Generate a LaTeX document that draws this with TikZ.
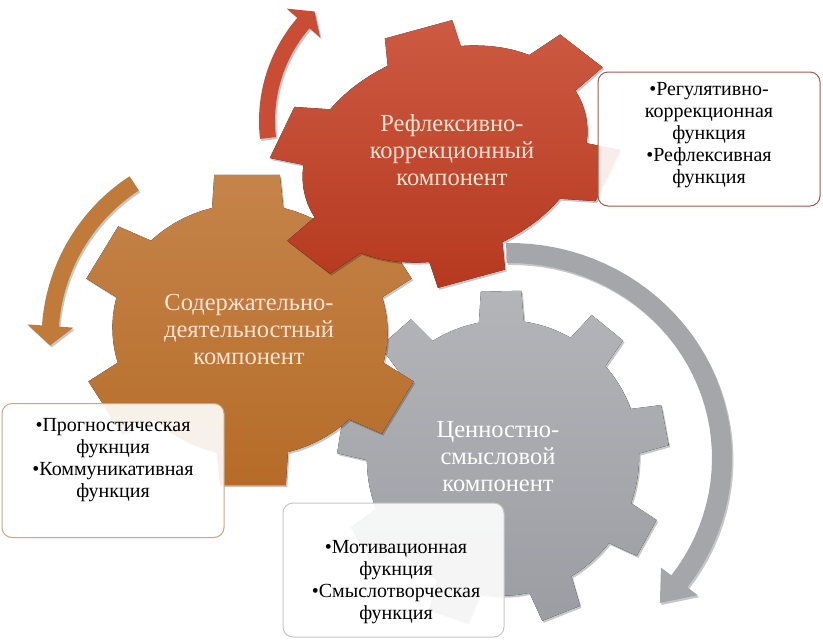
\documentclass[tikz,border=0pt]{standalone}
\usepackage{fontspec}
\setmainfont{Liberation Serif}
\usetikzlibrary{shadows}
\definecolor{gearRtop}{HTML}{CD5A42}
\definecolor{gearRbot}{HTML}{B5391F}
\definecolor{gearOtop}{HTML}{C5844A}
\definecolor{gearObot}{HTML}{B66C28}
\definecolor{gearGtop}{HTML}{B4B5B9}
\definecolor{gearGbot}{HTML}{9B9DA2}
\definecolor{arrR}{HTML}{C94C34}
\definecolor{arrO}{HTML}{C07B3B}
\definecolor{arrG}{HTML}{A4A6AA}
\definecolor{txtCream}{HTML}{FBE3D2}
\definecolor{bdR}{HTML}{A9574B}
\definecolor{bdO}{HTML}{CFA57C}
\definecolor{bdG}{HTML}{C6C6C6}
\pgfmathdeclarefunction{gx}{2}{\pgfmathparse{\GCx+#2*(\GAx*cos(#1)+\GBx*sin(#1))}}
\pgfmathdeclarefunction{gy}{2}{\pgfmathparse{\GCy+#2*(\GAy*cos(#1)+\GBy*sin(#1))}}
\tikzset{
  gearpath/.style n args={5}{insert path={
    ({gx(#2+360/#1-#5,#3)},{gy(#2+360/#1-#5,#3)})
    \foreach \i [evaluate=\i as \a using {#2+\i*360/#1}] in {1,...,#1}{
      -- ({gx(\a-#5,#3)},{gy(\a-#5,#3)})
      -- ({gx(\a-#4,1)},{gy(\a-#4,1)})
      -- ({gx(\a+#4,1)},{gy(\a+#4,1)})
      -- ({gx(\a+#5,#3)},{gy(\a+#5,#3)})
      -- plot[domain=0:1,samples=8] ({gx(\a+#5+\x*(360/#1-2*#5),#3)},{gy(\a+#5+\x*(360/#1-2*#5),#3)})
    } -- cycle}},
  % #1 cx, #2 cy, #3 rx, #4 half band, #5 half head, #6 start angle, #7 head base angle, #8 tip angle, #9 ry
  arrowshape/.style n args={9}{insert path={
    plot[domain=0:1,samples=40] ({#1+(#3+#4)*cos(#6+\x*(#7-#6))},{#2+(#9+#4)*sin(#6+\x*(#7-#6))})
    -- ({#1+(#3+#5)*cos(#7)},{#2+(#9+#5)*sin(#7)})
    -- ({#1+#3*cos(#8)},{#2+#9*sin(#8)})
    -- ({#1+(#3-#5)*cos(#7)},{#2+(#9-#5)*sin(#7)})
    -- plot[domain=0:1,samples=40] ({#1+(#3-#4)*cos(#7+\x*(#6-#7))},{#2+(#9-#4)*sin(#7+\x*(#6-#7))})
    -- cycle}},
  softshadow/.style={drop shadow={shadow xshift=1.5pt,shadow yshift=-2pt,opacity=.22,fill=black}},
  geartext/.style={align=center,font=\fontsize{24.5}{27}\selectfont,inner sep=0pt},
  boxtext/.style={align=center,font=\fontsize{20}{22}\selectfont,inner sep=0pt,text=black},
  infobox/.style={rounded corners=10pt,fill=white,fill opacity=.9,line width=1pt,
    minimum width=222pt,minimum height=134pt,inner sep=0pt},
}
\begin{document}
\begin{tikzpicture}[x=1pt,y=-1pt]
\useasboundingbox (0,0) rectangle (823,641);
% gray arrow and gear
\fill[arrG,softshadow,arrowshape={510}{458}{212}{10}{23}{-91}{37}{45}{205}];
\def\GCx{503}\def\GCy{458}\def\GAx{166}\def\GAy{-4}\def\GBx{-2}\def\GBy{-168}
\fill[top color=gearGtop,bottom color=gearGbot,softshadow,gearpath={9}{90}{0.82}{7}{9.5}];
\node[geartext,text=white] (tG) at (498,457) {Ценностно-\\смысловой\\компонент};
% orange arrow and gear
\fill[arrO,softshadow,arrowshape={236}{339}{186}{8.5}{23}{236.8}{184}{178}{186}];
\def\GCx{250}\def\GCy{330}\def\GAx{172}\def\GAy{0}\def\GBx{-3}\def\GBy{-158}
\fill[top color=gearOtop,bottom color=gearObot,softshadow,gearpath={6}{90}{0.8}{11}{15}];
\node[geartext,text=txtCream] (tO) at (249,330) {Содержательно-\\деятельностный\\компонент};
% red arrow and gear
\fill[arrR,softshadow,arrowshape={417}{121}{150}{8}{22}{173.5}{220.8}{226.9}{150}];
\def\GCx{445}\def\GCy{154}\def\GAx{176}\def\GAy{-48}\def\GBx{-27}\def\GBy{-127}
\fill[top color=gearRtop,bottom color=gearRbot,softshadow,gearpath={6}{90}{0.8}{11}{15}];
\node[geartext,text=txtCream] (tR) at (452,150) {Рефлексивно-\\коррекционный\\компонент};
% boxes
\node[infobox,draw=bdR] (bR) at (709,139) {};
\node[infobox,draw=bdO] (bO) at (113,470.5) {};
\node[infobox,draw=bdG,minimum width=221pt] (bG) at (393.5,570) {};
\node[boxtext] (xR) at (709,135) {•Регулятивно-\\коррекционная\\функция\\•Рефлексивная\\функция};
\node[boxtext] (xO) at (113,460) {•Прогностическая\\фукнция\\•Коммуникативная\\функция};
\node[boxtext] (xG) at (396,582) {•Мотивационная\\фукнция\\•Смыслотворческая\\функция};
\end{tikzpicture}
\end{document}
